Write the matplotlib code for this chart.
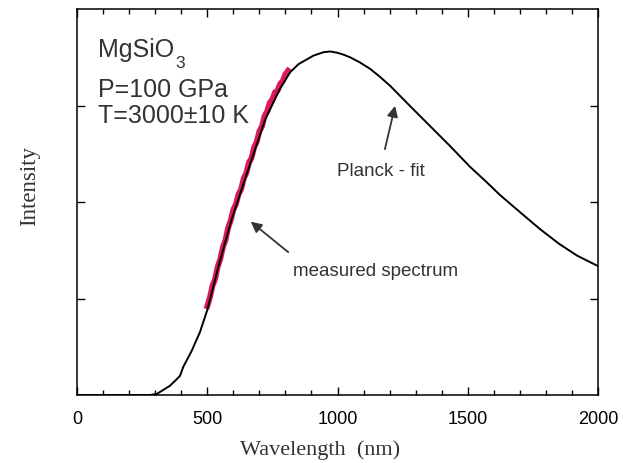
import matplotlib
matplotlib.use("Agg")
import matplotlib.pyplot as plt
from matplotlib.ticker import MultipleLocator

# Planck-fit curve
fit_wl = [0, 280, 307, 357, 395, 408, 440, 472, 500, 545, 594, 658, 722, 779, 818, 850,
          907, 946, 971, 997, 1022, 1048, 1085, 1125, 1160, 1202, 1278, 1355, 1432, 1509,
          1570, 1624, 1700, 1777, 1850, 1920, 2000]
fit_int = [0.0, 0.0, 0.003, 0.024, 0.049, 0.073, 0.114, 0.163, 0.220, 0.338, 0.456, 0.585,
           0.713, 0.793, 0.836, 0.857, 0.879, 0.888, 0.890, 0.887, 0.882, 0.875, 0.862,
           0.845, 0.826, 0.801, 0.749, 0.697, 0.645, 0.591, 0.553, 0.518, 0.474, 0.430,
           0.392, 0.361, 0.334]

# measured spectrum
meas_wl = [500, 510, 520, 530, 540, 550, 560, 570, 580, 590, 600, 610, 620, 630, 640, 650,
           660, 670, 680, 690, 700, 710, 720, 730, 740, 750, 760, 770, 780, 790, 800, 810]
meas_int = [0.230, 0.252, 0.283, 0.300, 0.332, 0.352, 0.383, 0.401, 0.433, 0.452, 0.480,
            0.494, 0.520, 0.533, 0.561, 0.575, 0.602, 0.614, 0.642, 0.656, 0.683, 0.696,
            0.723, 0.735, 0.757, 0.766, 0.784, 0.789, 0.806, 0.814, 0.831, 0.840]

x_ticks = [0, 500, 1000, 1500, 2000]
x_tick_labels = ["0", "500", "1000", "1500", "2000"]

W, H = 623, 464
fig = plt.figure(figsize=(W / 100, H / 100), dpi=100)
ax = fig.add_axes([77 / W, (H - 396) / H, (598 - 77) / W, (396 - 10) / H])

ax.plot(meas_wl, meas_int, color='#dc1a58', lw=4.2, solid_joinstyle='miter', zorder=2)
ax.plot(fit_wl, fit_int, color='black', lw=1.4, zorder=3)

ax.set_xlim(0, 2000)
ax.set_ylim(0, 1)
ax.set_xticks(x_ticks)
ax.set_xticklabels(x_tick_labels, fontfamily='Liberation Sans', fontsize=13)
ax.xaxis.set_minor_locator(MultipleLocator(100))
ax.set_yticks([0.25, 0.5, 0.75])
ax.set_yticklabels([])
ax.tick_params(axis='x', which='major', direction='in', length=6, width=1, top=True, pad=11)
ax.tick_params(axis='x', which='minor', direction='in', length=3.5, width=1, top=True)
ax.tick_params(axis='y', which='major', direction='in', length=6, width=1, right=True)
for s in ax.spines.values():
    s.set_linewidth(1.1)

tf = dict(fontfamily='Liberation Sans', color='#333333')
x0 = (98 - 77) * 2000 / 521
ax.text(x0, (396 - 57) / 386, "MgSiO", fontsize=18, va='baseline', **tf)
ax.text((175 - 77) * 2000 / 521, (396 - 68) / 386, "3", fontsize=12.5, va='baseline', **tf)
ax.text(x0, (396 - 97) / 386, "P=100 GPa", fontsize=18, va='baseline', **tf)
ax.text(x0, (396 - 123) / 386, "T=3000\u00b110 K", fontsize=18, va='baseline', **tf)

ap = dict(arrowstyle='-|>', color='#333333', lw=1.3, mutation_scale=16, shrinkA=0, shrinkB=0)
ax.annotate("", xy=(667, 0.449), xytext=(811, 0.370), arrowprops=ap)
ax.text(829, 0.3225, "measured spectrum", fontsize=13.5, va='center', **tf)
ax.annotate("", xy=(1221, 0.749), xytext=(1182, 0.637), arrowprops=ap)
ax.text(998, 0.5816, "Planck - fit", fontsize=13.5, va='center', **tf)

fig.text(320 / W, 1 - 450 / H, "Wavelength  (nm)", fontfamily='Liberation Serif',
         fontsize=16, ha='center', va='center', color='#333333')
fig.text(30 / W, 1 - 186 / H, "Intensity", fontfamily='Liberation Serif',
         fontsize=16.5, ha='center', va='center', rotation=90, color='#333333')

fig.savefig("out.png", dpi=100)
